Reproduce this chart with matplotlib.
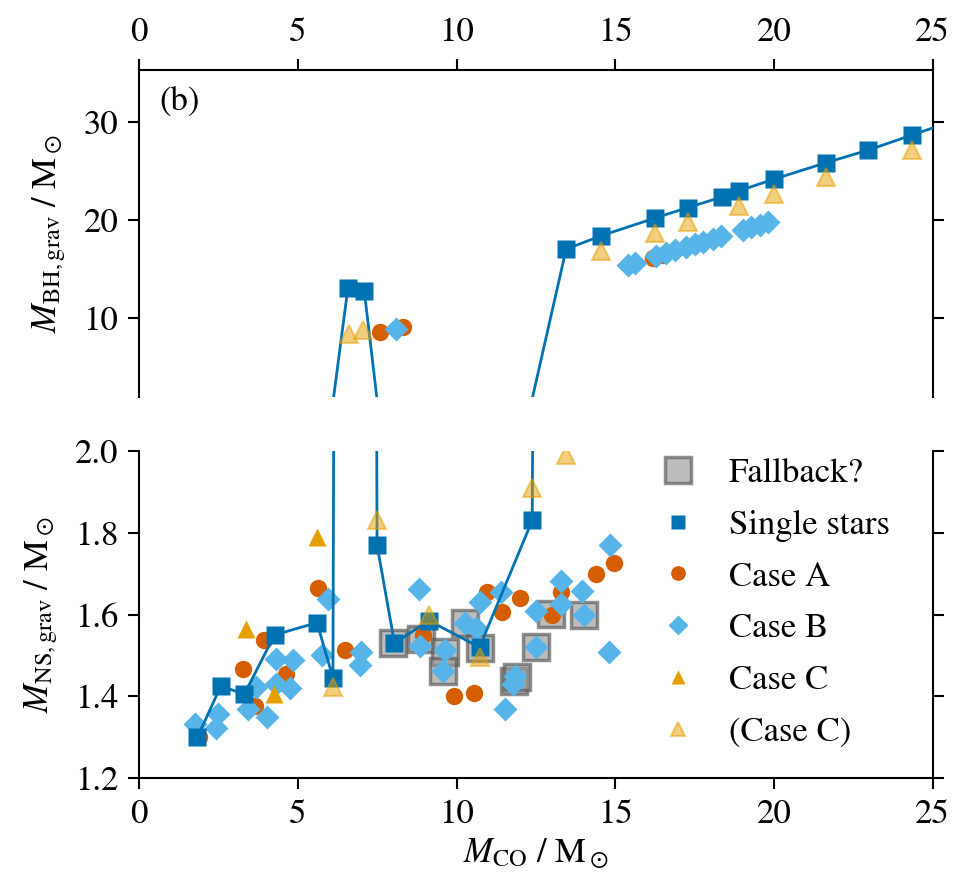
import matplotlib
matplotlib.use('Agg')
import matplotlib.pyplot as plt
import numpy as np

plt.rcParams['font.family'] = ['STIXGeneral', 'DejaVu Serif']
plt.rcParams['mathtext.fontset'] = 'stix'
plt.rcParams['font.size'] = 25

# single stars (NS mass below, BH mass above)
single_x = [1.83, 2.57, 3.31, 4.26, 5.60, 6.10, 6.57, 7.09, 7.49, 8.04, 9.12, 10.72, 12.38,
            13.45, 14.55, 16.24, 17.29, 18.37, 18.89, 20.0, 21.65, 22.96, 24.36, 26.0]
single_y = [1.30, 1.425, 1.405, 1.55, 1.58, 1.445, 13.05, 12.75, 1.77, 1.53, 1.585, 1.52, 1.83,
            17.06, 18.41, 20.21, 21.29, 22.38, 22.99, 24.18, 25.87, 27.13, 28.69, 30.5]

caseA_x = [1.89, 3.26, 3.63, 3.94, 4.62, 5.62, 6.49, 8.93, 9.9, 10.56, 10.95, 11.44, 12.0,
           13.0, 13.3, 14.40, 14.97, 7.59, 8.30, 16.2, 16.5]
caseA_y = [1.30, 1.467, 1.377, 1.537, 1.455, 1.664, 1.512, 1.549, 1.40, 1.408, 1.655, 1.607, 1.641,
           1.60, 1.655, 1.70, 1.725, 8.58, 9.08, 16.2, 16.45]

caseB_x = [1.75, 2.47, 2.42, 3.41, 3.68, 4.03, 4.31, 4.83, 4.3, 4.75, 5.76, 5.94, 6.99, 6.94,
           8.81, 8.83, 9.62, 9.56, 10.25, 10.61, 10.72, 11.40, 11.51, 11.85, 11.79, 12.5, 12.5,
           13.29, 13.29, 13.96, 14.0, 14.84, 14.80,
           8.09, 15.40, 15.61, 16.29, 16.60, 16.87, 17.23, 17.5, 17.76, 18.07, 18.34,
           19.02, 19.28, 19.55, 19.81]
caseB_y = [1.333, 1.357, 1.322, 1.369, 1.423, 1.349, 1.492, 1.488, 1.43, 1.42, 1.50, 1.639, 1.508, 1.476,
           1.662, 1.523, 1.512, 1.463, 1.578, 1.566, 1.631, 1.654, 1.369, 1.45, 1.431, 1.608, 1.521,
           1.682, 1.625, 1.657, 1.60, 1.769, 1.508,
           8.92, 15.46, 15.67, 16.35, 16.65, 16.92, 17.29, 17.53, 17.80, 18.11, 18.38,
           19.05, 19.30, 19.56, 19.81]

caseC_x = [3.36, 4.24, 5.60]
caseC_y = [1.564, 1.406, 1.79]

caseC2_x = [6.10, 7.49, 9.12, 10.72, 12.38, 13.45, 6.62, 7.06, 14.55, 16.24, 17.29, 18.89,
            20.0, 21.65, 24.36]
caseC2_y = [1.423, 1.83, 1.60, 1.497, 1.909, 1.99, 8.41, 8.82, 16.89, 18.69, 19.77, 21.46,
            22.66, 24.35, 27.13]

fallback_x = [7.99, 8.88, 9.62, 9.56, 10.25, 10.72, 11.82, 11.9, 12.5, 12.98, 14.0]
fallback_y = [1.531, 1.541, 1.508, 1.463, 1.578, 1.517, 1.437, 1.447, 1.521, 1.602, 1.598]

c_single = '#0072B2'
c_A = '#D55E00'
c_B = '#56B4E9'
c_C = '#E69F00'
ms = 12.5


def split(x, y, top):
    x = np.asarray(x)
    y = np.asarray(y)
    m = y > 2.0 if top else y <= 2.0
    return x[m], y[m]


fig = plt.figure(figsize=(9.57, 8.8), dpi=100)
ax_top = fig.add_axes([0.1456, 0.5489, 0.8290, 0.3716])
ax_bot = fig.add_axes([0.1456, 0.1159, 0.8290, 0.3716])

for ax, is_top in ((ax_top, True), (ax_bot, False)):
    ax.plot(*split(fallback_x, fallback_y, is_top), 's', ls='none', ms=19, mfc='#999999',
            mec='#555555', mew=2.5, alpha=0.65, zorder=2)
    ax.plot(single_x, single_y, '-', color=c_single, lw=2.0, zorder=4)
    ax.plot(*split(caseA_x, caseA_y, is_top), 'o', ls='none', color=c_A, ms=ms, mec='none', zorder=3)
    ax.plot(*split(caseB_x, caseB_y, is_top), 'D', ls='none', color=c_B, ms=ms, mec='none', zorder=3)
    ax.plot(*split(single_x, single_y, is_top), 's', ls='none', color=c_single, ms=ms,
            mec='none', zorder=4)
    ax.plot(*split(caseC_x, caseC_y, is_top), '^', ls='none', color=c_C, ms=ms, mec='none', zorder=5)
    ax.plot(*split(caseC2_x, caseC2_y, is_top), '^', ls='none', color=c_C, ms=ms, mew=1.5,
            alpha=0.5, zorder=5)
    ax.set_xlim(0, 25)
    for s in ax.spines.values():
        s.set_linewidth(1.5)
    ax.tick_params(direction='out', length=8, width=1.5, pad=7)

# legend handles in the desired order
h_fb = ax_bot.plot([], [], 's', ms=19, mfc='#999999', mec='#555555', mew=2.5, alpha=0.65)[0]
h_s = ax_bot.plot([], [], 's', color=c_single, ms=ms * 0.85, mec='none')[0]
h_a = ax_bot.plot([], [], 'o', color=c_A, ms=ms * 0.85, mec='none')[0]
h_b = ax_bot.plot([], [], 'D', color=c_B, ms=ms * 0.85, mec='none')[0]
h_c = ax_bot.plot([], [], '^', color=c_C, ms=ms * 0.85, mec='none')[0]
h_c2 = ax_bot.plot([], [], '^', color=c_C, ms=ms * 0.85, mew=1.5, alpha=0.5)[0]
ax_bot.legend([h_fb, h_s, h_a, h_b, h_c, h_c2],
              ['Fallback?', 'Single stars', 'Case A', 'Case B', 'Case C', '(Case C)'],
              loc='upper right', bbox_to_anchor=(0.985, 1.075), frameon=False,
              handletextpad=0.45, labelspacing=0.56, fontsize=25)

# top panel
ax_top.set_ylim(2.0, 35.3)
ax_top.set_yticks([10, 20, 30])
ax_top.spines['bottom'].set_visible(False)
ax_top.xaxis.tick_top()
ax_top.xaxis.set_label_position('top')
ax_top.set_xticks([0, 5, 10, 15, 20, 25])
ax_top.tick_params(axis='y', right=True, labelright=False)
ax_top.set_ylabel(r'$M_\mathrm{BH,grav}$ / $\mathrm{M}_\odot$', labelpad=11)
ax_top.text(0.025, 0.95, '(b)', transform=ax_top.transAxes, va='top', ha='left')

# bottom panel
ax_bot.set_ylim(1.2, 2.0)
ax_bot.set_yticks([1.2, 1.4, 1.6, 1.8, 2.0])
ax_bot.spines['top'].set_visible(False)
ax_bot.set_xticks([0, 5, 10, 15, 20, 25])
ax_bot.tick_params(axis='y', right=True, labelright=False)
ax_bot.tick_params(axis='x', top=False)
ax_bot.set_ylabel(r'$M_\mathrm{NS,grav}$ / $\mathrm{M}_\odot$', labelpad=11)
ax_bot.set_xlabel(r'$M_\mathrm{CO}$ / $\mathrm{M}_\odot$', labelpad=4)

fig.savefig('out.png', dpi=100)
